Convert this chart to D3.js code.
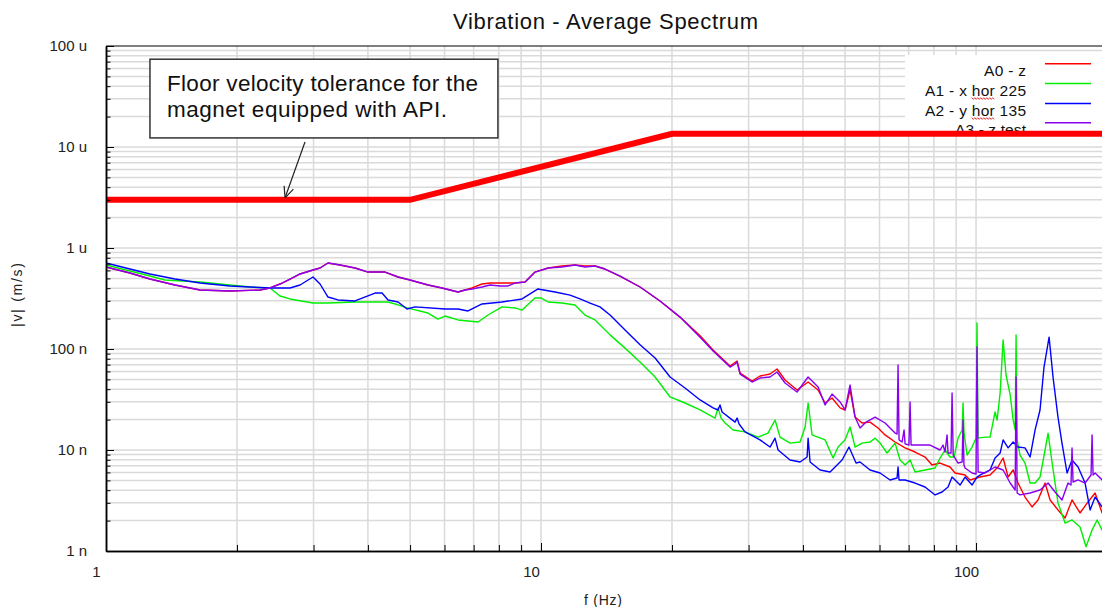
<!DOCTYPE html>
<html><head><meta charset="utf-8">
<script src="https://cdn.jsdelivr.net/npm/d3@7"></script>
<style>
body{margin:0;background:#fff}
svg{display:block}
text{font-family:"Liberation Sans",Arial,sans-serif}
</style>
</head><body>
<svg id="c" width="1102" height="607"></svg>
<script>
// ---------- data ----------
const seriesNames = ["A0 - z", "A1 - x hor 225", "A2 - y hor 135", "A3 - z test"];
const seriesColors = ["#ff0000", "#00ee00", "#0000ff", "#8a00f0"];

// [frequency (Hz), |v| (nm/s)]
const a0 = [[1.00,649],[1.135,565],[1.262,493],[1.441,430],[1.645,384],[1.928,375],[2.259,384],[2.382,402],[2.512,440],[2.649,493],[2.793,553],[2.991,606],[3.105,634],[3.238,710],[3.451,679],[3.736,634],[4.003,578],[4.380,578],[4.692,516],[4.998,482],[5.498,430],[5.921,402],[6.177,384],[6.445,367],[6.688,384],[6.941,402],[7.318,440],[7.635,450],[8.050,450],[8.398,450],[8.716,450],[9.190,461],[9.687,578],[10.38,634],[11.17,664],[11.97,679],[12.62,664],[13.31,664],[14.03,619],[15.19,528],[16.89,411],[18.77,299],[20.87,207],[23.21,135],[24.86,97.7],[27.20,67.9],[28.23,76.0],[28.68,57.8],[30.56,48.2],[31.87,54.0],[33.61,56.5],[34.88,63.4],[36.39,49.3],[38.78,39.3],[41.11,47.1],[43.34,39.3],[44.98,29.2],[46.67,32.7],[48.69,26.1],[50.00,24.9],[51.33,39.3],[52.71,21.2],[54.70,18.5],[57.06,18.9],[59.54,16.5],[61.78,14.1],[65.14,12.0],[68.69,10.5],[72.42,9.55],[76.35,8.52],[79.23,7.10],[82.66,7.43],[87.15,6.79],[89.49,5.92],[94.35,5.65],[96.87,5.05],[102.1,5.40],[107.7,5.65],[112.3,6.79],[115.4,8.33],[118.5,5.40],[121.7,6.34],[124.9,4.71],[129.6,3.42],[134.5,2.73],[138.8,3.20],[144.1,4.71],[148.0,3.20],[154.3,2.55],[160.2,2.12],[166.2,3.20],[173.4,2.38],[180.9,3.06],[187.8,3.75],[194.9,2.38],[200,2.5]];

const a1 = [[1.00,679],[1.135,592],[1.262,528],[1.366,482],[1.645,461],[1.928,430],[2.143,411],[2.382,402],[2.512,335],[2.649,313],[2.991,285],[3.238,285],[3.736,292],[4.154,292],[4.450,292],[4.692,273],[4.920,255],[5.498,227],[5.797,198],[6.016,212],[6.445,194],[7.165,185],[7.554,217],[8.136,261],[8.716,255],[9.045,243],[9.687,320],[10.0,320],[10.38,292],[11.17,285],[11.97,273],[12.62,217],[13.31,194],[14.41,138],[15.60,102],[16.89,74.3],[18.29,52.8],[19.80,33.5],[21.43,29.2],[23.21,24.9],[25.12,20.7],[25.52,26.1],[25.94,20.7],[26.49,18.5],[27.64,15.8],[29.44,15.1],[31.54,13.4],[33.25,14.7],[34.51,19.8],[35.44,13.4],[37.36,11.7],[39.40,12.0],[40.46,16.9],[41.11,29.2],[41.98,14.1],[44.98,12.6],[46.92,8.33],[48.18,10.7],[50.00,12.6],[51.33,16.9],[52.71,10.7],[54.70,11.7],[57.06,12.0],[58.60,13.1],[60.17,11.7],[62.44,9.34],[65.14,11.7],[66.89,7.96],[68.69,7.10],[70.53,7.96],[72.42,6.06],[76.35,6.34],[80.50,6.64],[82.66,8.33],[84.87,10.0],[87.15,8.52],[89.01,8.52],[90.93,13.1],[92.9,15.8],[93.35,29.2],[93.8,15.1],[95.35,8.92],[97.90,10.7],[100.0,13.1],[100.5,181],[101.1,13.1],[104.9,13.4],[107.7,13.4],[110.6,23.8],[111.8,19.8],[113.6,36.7],[115.4,123],[117.2,55.3],[119.8,35.1],[121.7,19.8],[123.0,15.8],[123.6,138],[124.3,12.6],[126.2,8.92],[129.6,7.43],[133.1,4.71],[136.7,4.71],[140.3,5.40],[144.1,10.0],[146.4,14.7],[149.6,7.43],[154.3,2.99],[160.2,1.89],[166.2,2.03],[173.4,1.73],[179.0,1.10],[184.8,1.61],[189.8,2.03],[194.9,1.61],[200,1.5]];

const a2 = [[1.00,710],[1.135,619],[1.262,553],[1.441,493],[1.645,450],[1.928,421],[2.143,411],[2.382,402],[2.649,402],[2.793,430],[2.991,516],[3.105,440],[3.238,327],[3.415,306],[3.736,299],[4.154,358],[4.311,358],[4.450,306],[4.692,292],[4.920,249],[5.132,261],[6.016,249],[6.445,249],[6.796,238],[7.318,279],[8.136,292],[9.045,313],[9.335,342],[9.842,393],[10.77,367],[11.66,342],[12.29,313],[12.96,285],[13.66,261],[14.41,217],[15.60,154],[16.89,110],[18.29,81.5],[19.80,52.8],[21.43,41.1],[23.21,31.3],[24.86,26.1],[25.52,24.9],[25.79,27.9],[26.07,23.8],[27.93,18.9],[28.23,20.7],[28.53,18.1],[29.44,15.1],[31.87,12.6],[33.61,10.7],[34.51,13.1],[35.07,10.0],[37.36,7.96],[39.40,7.60],[40.89,8.52],[41.11,13.1],[41.54,7.60],[43.80,6.34],[46.18,6.06],[47.42,6.79],[49.21,7.96],[51.05,10.7],[52.99,7.43],[54.12,7.60],[57.06,6.34],[60.17,5.92],[63.44,5.05],[65.83,5.28],[66.18,6.79],[66.53,5.05],[68.69,5.05],[72.42,4.71],[76.35,4.30],[80.50,3.59],[83.54,3.84],[86.23,4.30],[88.08,5.40],[91.90,4.50],[94.35,5.40],[97.90,4.50],[100.5,5.40],[102.1,5.65],[107.7,6.34],[110.6,8.33],[113.6,9.34],[115.4,12.6],[118.5,10.5],[121.7,12.0],[124.9,10.7],[129.6,10.5],[133.1,8.52],[136.7,15.8],[140.3,24.9],[143.3,66.3],[147.2,131],[150.3,52.8],[154.3,21.2],[157.6,11.7],[161.9,5.92],[166.2,7.96],[171.6,6.79],[178.1,4.71],[182.9,2.55],[187.8,3.42],[194.9,2.73],[200,2.8]];

const a3 = [[1.00,649],[1.135,565],[1.262,493],[1.441,430],[1.645,384],[1.928,375],[2.259,384],[2.382,402],[2.512,440],[2.649,493],[2.793,553],[2.991,606],[3.105,634],[3.238,710],[3.451,679],[3.736,634],[4.003,578],[4.380,578],[4.692,516],[4.998,482],[5.498,430],[5.921,402],[6.177,384],[6.445,367],[6.688,384],[6.941,393],[7.318,411],[7.635,430],[8.050,421],[8.398,421],[8.716,450],[9.190,461],[9.687,578],[10.38,634],[11.17,649],[11.97,679],[12.62,649],[13.31,664],[14.03,619],[15.19,528],[16.89,411],[18.77,299],[20.87,207],[23.21,131],[24.86,95.5],[27.20,66.3],[27.93,71.0],[28.23,74.3],[28.68,56.5],[30.56,47.1],[31.87,51.6],[33.61,52.8],[34.88,59.2],[36.39,46.1],[38.78,37.5],[41.11,52.8],[43.34,42.0],[44.98,27.9],[46.67,35.8],[48.69,29.9],[50.00,24.9],[51.33,44.0],[52.71,21.2],[54.12,16.5],[55.87,18.9],[58.60,21.2],[61.78,18.5],[65.14,14.7],[65.83,14.4],[66.18,69.4],[66.53,12.6],[67.60,12.0],[68.32,15.8],[68.69,11.5],[70.1,11.2],[70.53,29.9],[70.9,11.2],[74.35,11.2],[78.40,11.2],[82.66,10.0],[83.98,11.2],[84.87,9.55],[85.78,14.1],[86.23,9.34],[87.6,9.34],[88.08,36.7],[88.6,8.92],[90.93,7.43],[92.9,7.6],[93.35,19.8],[93.8,7.1],[94.35,6.64],[97.90,5.92],[100.0,5.78],[100.5,105],[101.1,6.06],[104.9,5.92],[110.6,6.79],[115.4,6.34],[119.8,4.71],[123.0,4.02],[123.6,52.8],[124.3,3.75],[126.2,3.59],[133.1,3.75],[140.3,4.02],[146.4,4.71],[151.9,3.84],[157.6,3.20],[162.7,4.71],[165.3,4.50],[166.2,10.5],[167.1,4.82],[171.6,5.05],[178.1,4.71],[183.8,5.65],[184.8,14.1],[185.8,5.65],[187.8,5.92],[194.9,5.05],[200,4.8]];

// floor velocity tolerance [Hz, nm/s]
const tolerance = [[1,3000],[5,3000],[20,13500],[200,13500]];

const yTickValues = [1e-9, 1e-8, 1e-7, 1e-6, 1e-5, 1e-4];
const yTickLabels = ["1 n", "10 n", "100 n", "1 u", "10 u", "100 u"];
const xTickValues = [1, 10, 100];
const xTickLabels = ["1", "10", "100"];

const titleText = "Vibration - Average Spectrum";
const xTitle = "f (Hz)";
const yTitle = "|v| (m/s)";
const noteLines = ["Floor velocity tolerance for the", "magnet equipped with API."];

// ---------- layout ----------
const svg = d3.select("#c");
const L = 106, R = 1107, T = 46, B = 551;
const x = d3.scaleLog().domain([1, 200]).range([L, R]);
const y = d3.scaleLog().domain([1e-9, 1e-4]).range([B, T]);

const minorX = [];
for (const d of [1, 10, 100]) for (let k = 1; k <= 9; k++) { const v = k * d; if (v <= 200) minorX.push(v); }
const minorY = [];
for (let e = -9; e <= -5; e++) for (let k = 1; k <= 9; k++) minorY.push(k * Math.pow(10, e));
minorY.push(1e-4);

svg.append("defs").append("clipPath").attr("id", "plot")
  .append("rect").attr("x", L).attr("y", T).attr("width", R - L).attr("height", B - T);

// grid
const grid = svg.append("g").attr("stroke", "#dadada").attr("stroke-width", 1.5);
grid.selectAll(".gx").data(minorX.filter(v => v > 1)).join("line")
  .attr("x1", d => x(d)).attr("x2", d => x(d)).attr("y1", T).attr("y2", B);
grid.selectAll(".gy").data(minorY.filter(v => v > 1e-9 && v < 1e-4)).join("line")
  .attr("x1", L).attr("x2", R).attr("y1", d => y(d)).attr("y2", d => y(d));

// data lines
const toPts = arr => arr.map(d => [d[0], d[1] * 1e-9]);
const line = d3.line().x(d => x(d[0])).y(d => y(d[1]));
const dataG = svg.append("g").attr("clip-path", "url(#plot)");
[a0, a1, a2, a3].forEach((s, i) => {
  dataG.append("path").datum(toPts(s)).attr("d", line)
    .attr("fill", "none").attr("stroke", seriesColors[i])
    .attr("stroke-width", 1.4).attr("stroke-linejoin", "round");
});

// legend
const lg = svg.append("g");
lg.append("defs").append("clipPath").attr("id", "lgclip")
  .append("rect").attr("x", 905).attr("y", 55).attr("width", 200).attr("height", 76);
const lgi = lg.append("g").attr("clip-path", "url(#lgclip)");
lgi.append("rect").attr("x", 905).attr("y", 55).attr("width", 200).attr("height", 80).attr("fill", "#fff");
const lgY = [63.7, 83.5, 103.5, 122.7];
const lgLen = [42, 101, 101, 71];
seriesNames.forEach((n, i) => {
  lgi.append("line").attr("x1", 1045).attr("x2", 1091).attr("y1", lgY[i]).attr("y2", lgY[i])
    .attr("stroke", seriesColors[i]).attr("stroke-width", 1.6);
  const t = lgi.append("text").attr("x", 1026 - lgLen[i]).attr("y", lgY[i] + 12.3)
    .attr("font-size", 15.5).attr("fill", "#111")
    .attr("textLength", lgLen[i]).attr("lengthAdjust", "spacing").text(n);
  const k = n.indexOf("hor");
  if (k >= 0) {
    const node = t.node();
    const xs = node.getStartPositionOfChar(k).x, xe = node.getEndPositionOfChar(k + 2).x;
    const yb = lgY[i] + 14.8;
    const pts = [];
    for (let px = xs, j = 0; px <= xe + 0.01; px += 1.5, j++) pts.push([px, yb + (j % 2 ? 1.1 : -0.6)]);
    lgi.append("path").attr("d", d3.line()(pts)).attr("fill", "none").attr("stroke", "#e02828").attr("stroke-width", 0.9);
  }
});

// tolerance
svg.append("path").datum(tolerance.map(d => [d[0], d[1] * 1e-9]))
  .attr("clip-path", "url(#plot)")
  .attr("d", line).attr("fill", "none").attr("stroke", "#ff0000").attr("stroke-width", 6);

// axes
const yMajor = d3.axisLeft(y).tickValues(yTickValues).tickSizeInner(-8).tickSizeOuter(0).tickPadding(19)
  .tickFormat((d, i) => yTickLabels[i]);
const yMinor = d3.axisLeft(y).tickValues(minorY.filter(v => !yTickValues.includes(v)))
  .tickSizeInner(-4.5).tickSizeOuter(0).tickFormat("");
const gyMin = svg.append("g").attr("transform", `translate(${L},0)`).call(yMinor);
const gy = svg.append("g").attr("transform", `translate(${L},0)`).call(yMajor);
[gy, gyMin].forEach(g => { g.select(".domain").attr("stroke", "#000").attr("stroke-width", 1.5); g.selectAll(".tick line").attr("stroke", "#000"); });
gy.selectAll(".tick text").attr("font-size", 15).attr("fill", "#222").attr("font-family", "Liberation Sans, Arial, sans-serif");

const xMajor = d3.axisBottom(x).tickValues(xTickValues).tickSizeInner(-8).tickSizeOuter(0).tickPadding(15)
  .tickFormat((d, i) => xTickLabels[i]);
const xMinor = d3.axisBottom(x).tickValues(minorX.filter(v => !xTickValues.includes(v)))
  .tickSizeInner(-6).tickSizeOuter(0).tickFormat("");
const gxMin = svg.append("g").attr("transform", `translate(0,${B})`).call(xMinor);
const gx = svg.append("g").attr("transform", `translate(0,${B})`).call(xMajor);
[gx, gxMin].forEach(g => { g.select(".domain").attr("stroke", "#000").attr("stroke-width", 1.5); g.selectAll(".tick line").attr("stroke", "#000"); });
gx.selectAll(".tick text").attr("font-size", 15).attr("fill", "#222").attr("dx", -10)
  .attr("font-family", "Liberation Sans, Arial, sans-serif");

// top border
svg.append("line").attr("x1", L).attr("x2", R).attr("y1", T).attr("y2", T).attr("stroke", "#000").attr("stroke-width", 1.2);

// titles
svg.append("text").attr("x", 453).attr("y", 29).attr("font-size", 22).attr("fill", "#111")
  .attr("textLength", 305).attr("lengthAdjust", "spacing").text(titleText);
svg.append("text").attr("x", 603).attr("y", 605).attr("text-anchor", "middle").attr("font-size", 14)
  .attr("fill", "#222").attr("textLength", 38).attr("lengthAdjust", "spacing").text(xTitle);
svg.append("text").attr("transform", "translate(22,295) rotate(-90)").attr("text-anchor", "middle")
  .attr("font-size", 14).attr("fill", "#222").attr("textLength", 64).attr("lengthAdjust", "spacing").text(yTitle);

// annotation box + arrow
const bx0 = x(1.262), bx1 = x(7.96), by0 = y(74e-6), by1 = y(12.3e-6);
svg.append("rect").attr("x", bx0).attr("y", by0).attr("width", bx1 - bx0).attr("height", by1 - by0)
  .attr("fill", "#fff").attr("stroke", "#333").attr("stroke-width", 1.5);
const nLen = [311, 280];
noteLines.forEach((s, i) => {
  svg.append("text").attr("x", bx0 + 17).attr("y", by0 + 32 + i * 25.5).attr("font-size", 22.5).attr("fill", "#111")
    .attr("textLength", nLen[i]).attr("lengthAdjust", "spacing").text(s);
});
const ax0 = x(2.867), ay0 = y(11.2e-6), ax1 = x(2.58), ay1 = y(3e-6) - 2;
svg.append("line").attr("x1", ax0).attr("y1", ay0).attr("x2", ax1).attr("y2", ay1).attr("stroke", "#222").attr("stroke-width", 1.2);
const ang = Math.atan2(ay1 - ay0, ax1 - ax0);
[0.42, -0.42].forEach(da => {
  svg.append("line").attr("x1", ax1).attr("y1", ay1)
    .attr("x2", ax1 - 12 * Math.cos(ang + da)).attr("y2", ay1 - 12 * Math.sin(ang + da))
    .attr("stroke", "#222").attr("stroke-width", 1.2);
});
</script>
</body></html>
